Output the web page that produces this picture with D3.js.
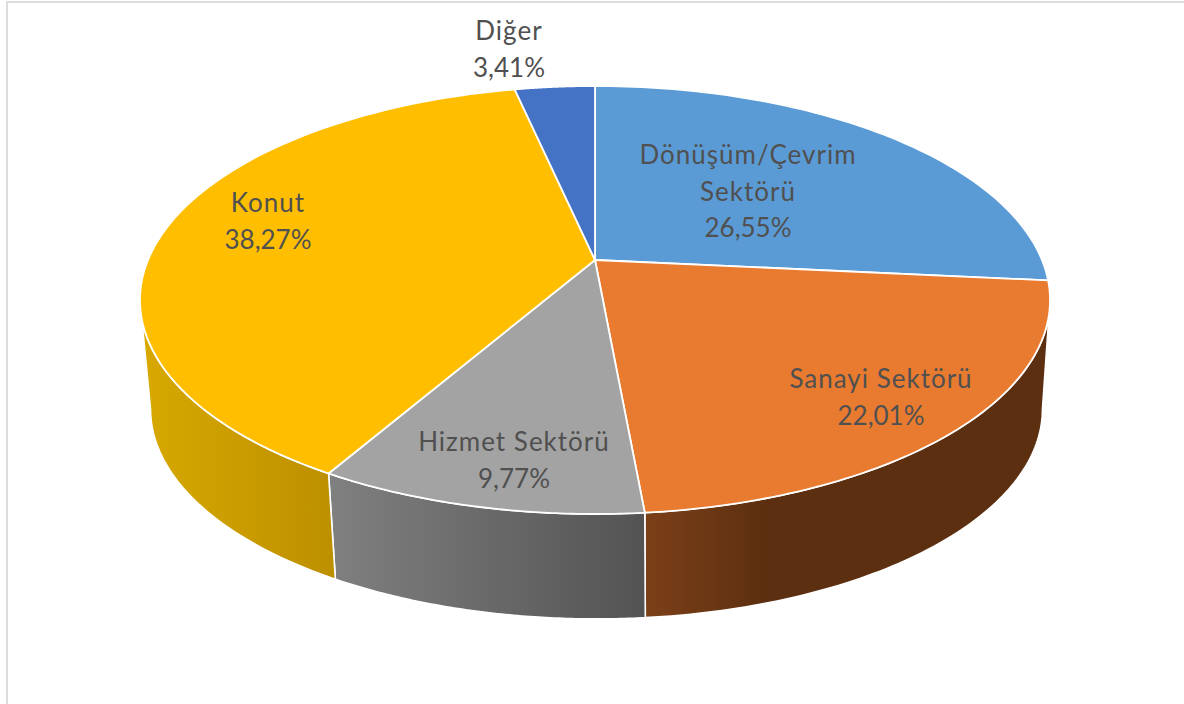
<!DOCTYPE html>
<html><head><meta charset="utf-8">
<script src="https://cdn.jsdelivr.net/npm/d3@7/dist/d3.min.js"></script>
<style>html,body{margin:0;padding:0;background:#fff}svg{display:block}</style>
</head><body><div id="chart"></div>
<script>
const categories = ["Dönüşüm/Çevrim Sektörü","Sanayi Sektörü","Hizmet Sektörü","Konut","Diğer"];
const values = [26.55,22.01,9.77,38.27,3.41];
const valueLabels = ["26,55%","22,01%","9,77%","38,27%","3,41%"];
const labelLines = [["Dönüşüm/Çevrim","Sektörü"],["Sanayi Sektörü"],["Hizmet Sektörü"],["Konut"],["Diğer"]];
const topColors = ["#5B9BD5","#E97B30","#A3A3A3","#FFBE00","#4472C4"];
const sideColors = [["#35608a","#35608a"],["#7c4018","#5c2f10"],["#808080","#535353"],["#d8a900","#bc8f00"],["#2a4a80","#2a4a80"]];
const labelX = [748,881,514,268,509];
const labelY = [164,388,451,212,40];

const W=1184,H=704, cx=595, cy=260, a=447, b=206.5, k=0.187, dy=110, shrink=0.98, lowShift=1.5, lineH=36.5;
const svg=d3.select("#chart").append("svg").attr("width",W).attr("height",H);
svg.append("path").attr("d",`M7 ${H}V2H${W}`).attr("fill","none").attr("stroke","#dcdcdc").attr("stroke-width",2);

const pie=d3.pie().sort(null).value(d=>d)(values);
// perspective projection of the unit circle
const proj=(t)=>{const u=Math.sin(t),v=Math.cos(t),w=1+k*v;return [a*u/w,b*v/w];};
const topPt=t=>{const p=proj(t);return [cx+p[0],cy-p[1]];};
const botPt=t=>{const p=proj(t);return [cx+lowShift+shrink*p[0],cy+dy-shrink*p[1]];};
const line=d3.line();
const sweep=(s,e)=>d3.range(0,81).map(i=>s+(e-s)*i/80);
const tangentR=Math.acos(-k), tangentL=2*Math.PI-Math.acos(-k);
const defs=svg.append("defs");
sideColors.forEach((c,i)=>{
  const g=defs.append("linearGradient").attr("id","side"+i);
  g.append("stop").attr("offset",0).attr("stop-color",c[0]);
  g.append("stop").attr("offset",i===1?0.3:1).attr("stop-color",c[1]);
});
// visible walls: front part of the rim only
const gs=svg.append("g");
pie.forEach(d=>{
  const s=Math.max(d.startAngle,tangentR), e=Math.min(d.endAngle,tangentL);
  if(e<=s) return;
  const ts=sweep(s,e);
  const pts=ts.map(topPt).concat(ts.slice().reverse().map(botPt));
  gs.append("path").attr("d",line(pts)+"Z").attr("fill",`url(#side${d.index})`)
    .attr("stroke","#fff").attr("stroke-width",1.6).attr("stroke-linejoin","round");
});
// top faces
const gt=svg.append("g");
pie.forEach(d=>{
  const pts=[[cx,cy]].concat(sweep(d.startAngle,d.endAngle).map(topPt));
  gt.append("path").attr("d",line(pts)+"Z").attr("fill",topColors[d.index])
    .attr("stroke","#fff").attr("stroke-width",1.8).attr("stroke-linejoin","round");
});
// labels
const gl=svg.append("g").attr("font-family","Lato, 'Open Sans', sans-serif").attr("font-size",26)
  .attr("fill","#505050").attr("text-anchor","middle");
categories.forEach((c,i)=>{
  const t=gl.append("text").attr("aria-label",c);
  const names=labelLines[i];
  names.forEach((l,j)=>t.append("tspan").attr("x",labelX[i]).attr("y",labelY[i]+j*lineH).attr("letter-spacing",1).text(l));
  t.append("tspan").attr("x",labelX[i]).attr("y",labelY[i]+names.length*lineH).text(valueLabels[i]);
});
</script></body></html>
